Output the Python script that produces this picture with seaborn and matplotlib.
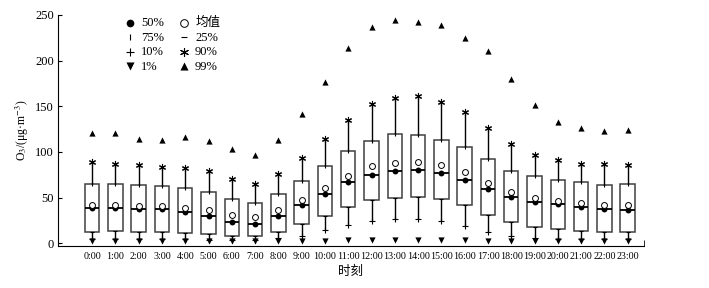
import numpy as np
import pandas as pd
import matplotlib
matplotlib.use("Agg")
import matplotlib.pyplot as plt
import seaborn as sns

# hourly O3 percentiles (ug/m3)
hours = [f"{h}:00" for h in range(24)]
p1 = [2, 2, 2, 2, 2, 2, 2, 2, 2, 2, 2, 3, 3, 3, 3, 3, 3, 2, 2, 2, 2, 2, 2, 2]
p10 = [5, 5, 5, 5, 5, 4, 4, 4, 6, 8, 14, 20, 24, 27, 27, 24, 19, 12, 8, 6, 5, 5, 5, 5]
p25 = [12.8, 13.5, 12.4, 12.1, 11.7, 9.9, 8.4, 8.4, 12.8, 20.5, 30.3, 39.6, 47.6, 49.8, 50.5,
       48.7, 41.8, 31.1, 23.1, 18.3, 15.7, 13.5, 12.1, 12.4]
p50 = [38.4, 38.4, 37.7, 37.7, 34.1, 29.7, 23.4, 21.2, 30.0, 41.8, 53.8, 66.6, 74.3, 78.7, 79.8,
       76.8, 69.6, 59.3, 50.9, 45.4, 42.9, 39.6, 37.7, 36.6]
p75 = [64.4, 64.7, 63.6, 62.6, 60.0, 56.3, 48.3, 43.6, 54.0, 68.5, 84.6, 101, 112.4, 119.5, 119,
       113.5, 105, 92.3, 79.5, 73.6, 69.6, 66.6, 64.0, 64.4]
p90 = [89, 86.8, 85.3, 83.8, 82, 79.5, 70.3, 64.8, 75.6, 93.4, 113.8, 134.5, 152, 159, 160.8,
       155, 143.8, 126.7, 109, 96.7, 91.5, 87.1, 87.1, 85.7]
p99 = [121.2, 120.4, 114.6, 113.5, 116, 112, 103.3, 96.7, 112.7, 141.7, 176.6, 214.3, 236.5,
       244.3, 241.8, 238.5, 225.2, 210.2, 180.2, 151.6, 132.5, 126, 122.6, 124.5]
mean = [42, 42, 41, 40.7, 39, 36, 31, 28.5, 36.3, 47.6, 60.4, 74, 84.2, 87.9, 89, 85.3, 78, 66.3,
        55.6, 49.8, 46.2, 43.5, 42.4, 41.8]

plt.rcParams['font.family'] = ['Liberation Serif', 'Noto Sans CJK SC']
plt.rcParams['mathtext.fontset'] = 'stix'

# five-number table per hour: with whis=(0,100) the box spans p25-p75 and whiskers p10-p90
box_df = pd.DataFrame({
    'hour': np.repeat(hours, 5),
    'value': np.column_stack([p10, p25, p50, p75, p90]).ravel(),
})
pts = pd.DataFrame({'hour': hours, 'p1': p1, 'p10': p10, 'p25': p25, 'p50': p50,
                    'p75': p75, 'p90': p90, 'p99': p99, 'mean': mean})

fig = plt.figure(figsize=(7.09, 2.88), dpi=100)
ax = fig.add_axes([0.082, 0.146, 0.826, 0.802])

sns.boxplot(data=box_df, x='hour', y='value', order=hours, whis=(0, 100), width=0.62,
            color='white', linecolor='#404040', linewidth=1.1, showcaps=False,
            medianprops=dict(color='black', linewidth=1.3),
            whiskerprops=dict(color='black', linewidth=1.0), ax=ax)

kw = dict(x='hour', color='black', ax=ax, legend=False, zorder=5)
sns.scatterplot(data=pts, y='p50', marker='o', s=18, linewidth=0, label='50%', **kw)
sns.scatterplot(data=pts, y='p75', marker='|', s=12, linewidth=0.8, label='75%', **kw)
sns.scatterplot(data=pts, y='p10', marker='+', s=22, linewidth=0.8, label='10%', **kw)
sns.scatterplot(data=pts, y='p1', marker='v', s=20, linewidth=0, label='1%', **kw)
sns.scatterplot(data=pts, y='mean', marker='o', s=18, facecolor='white', edgecolor='black',
                linewidth=0.7, label='均值', x='hour', ax=ax, legend=False, zorder=5)
sns.scatterplot(data=pts, y='p25', marker='_', s=12, linewidth=0.8, label='25%', **kw)
sns.scatterplot(data=pts, y='p90', marker=(6, 2, 0), s=20, linewidth=0.8, label='90%', **kw)
sns.scatterplot(data=pts, y='p99', marker='^', s=20, linewidth=0, label='99%', **kw)

ax.set_xlim(-1.46, 23.69)
ax.set_ylim(-3, 250)
ax.set_yticks([0, 50, 100, 150, 200, 250])
ax.tick_params(axis='y', direction='in', length=3, labelsize=9, pad=3)
ax.tick_params(axis='x', length=0, labelsize=7.2, pad=4)
ax.set_xticks([23.69], minor=True)
ax.tick_params(axis='x', which='minor', direction='in', length=4)
for s in ['top', 'right']:
    ax.spines[s].set_visible(False)
ax.spines['left'].set_bounds(-3, 250)
ax.set_xlabel('时刻', fontsize=9, labelpad=4)
ax.set_ylabel(r'O$_3$/(μg·m$^{-3}$)', fontsize=8.5, labelpad=3)

handles, labels = ax.get_legend_handles_labels()
ax.legend(handles, labels, ncol=2, frameon=False, loc='upper left',
          bbox_to_anchor=(0.09, 1.04), fontsize=9, handletextpad=0.3,
          columnspacing=1.0, labelspacing=0.2, handlelength=1.2, markerscale=1.3)

fig.savefig('out.png', dpi=100)
